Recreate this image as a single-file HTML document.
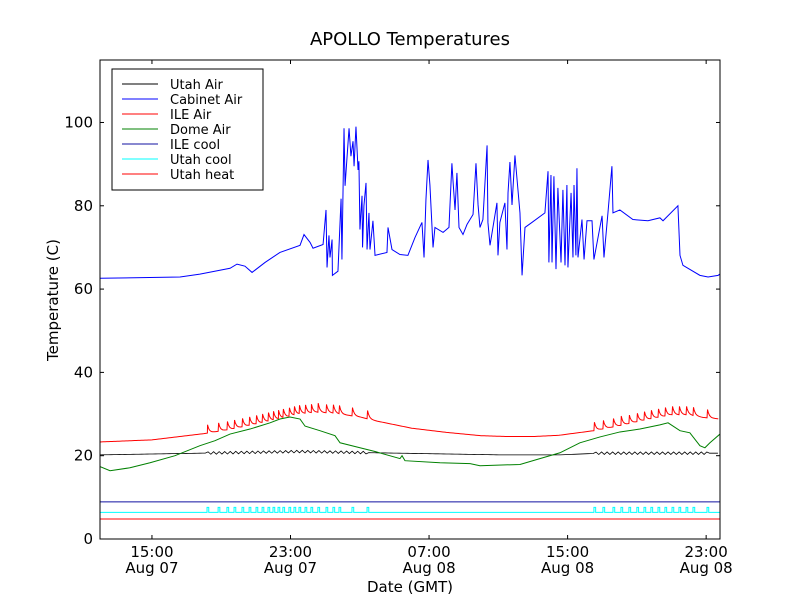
<!DOCTYPE html>
<html><head><meta charset="utf-8"><style>
body{margin:0;background:#fff;}
svg text{font-family:"DejaVu Sans","Liberation Sans",sans-serif;}
</style></head><body>
<svg id="chart" width="800" height="600" viewBox="0 0 800 600" xmlns="http://www.w3.org/2000/svg">
<rect x="0" y="0" width="800" height="600" fill="#fff"/>
<text x="410" y="45" font-size="18" text-anchor="middle">APOLLO Temperatures</text>
<g id="plot"></g>
<text x="410" y="592" font-size="15" text-anchor="middle">Date (GMT)</text>
<text transform="translate(58,300) rotate(-90)" font-size="15" text-anchor="middle">Temperature (C)</text>
</svg>
<script>
// ---- data (hours since 00:00 Aug 07, degrees C) ----
const cabHours=[12.00,16.62,17.77,19.51,19.91,20.37,20.78,21.53,22.39,23.55,23.78,24.13,24.30,24.88,25.05,25.11,25.22,25.28,25.40,25.42,25.74,25.92,25.97,26.09,26.15,26.38,26.49,26.61,26.67,26.78,26.90,26.95,27.01,27.13,27.16,27.24,27.36,27.42,27.53,27.59,27.71,27.76,27.88,28.57,28.63,28.86,29.32,29.78,30.19,30.59,30.71,30.82,30.94,31.05,31.23,31.34,31.81,32.15,32.32,32.38,32.50,32.61,32.73,32.96,33.19,33.54,33.71,33.83,33.94,34.11,34.35,34.40,34.52,34.92,34.98,35.09,35.38,35.50,35.56,35.67,35.79,35.96,36.25,36.37,36.54,36.94,37.69,37.87,37.92,38.04,38.10,38.21,38.33,38.44,38.62,38.73,38.85,38.96,39.02,39.20,39.31,39.37,39.48,39.54,39.60,39.83,39.95,40.12,40.41,40.52,40.99,41.10,41.33,41.56,41.62,42.02,42.77,43.64,44.33,44.51,45.37,45.49,45.66,46.64,47.11,47.69,47.80];
const cabValues=[62.6,62.9,63.6,65.0,66.0,65.5,64.0,66.4,68.8,70.5,73.1,71.2,69.8,70.7,79.0,65.2,72.9,67.6,71.9,63.3,64.3,81.7,67.1,98.6,84.8,98.6,91.9,95.5,89.5,99.0,88.6,90.7,74.3,82.4,70.0,80.0,85.5,69.5,78.3,69.5,74.3,76.4,68.1,68.8,74.8,69.5,68.3,68.1,72.4,76.0,67.6,81.4,91.0,85.0,70.0,74.8,73.6,74.8,90.2,86.2,79.0,87.9,74.8,73.1,75.5,77.9,90.2,80.2,74.8,76.7,94.5,76.0,70.5,80.7,68.1,76.0,80.7,69.5,83.1,90.5,80.2,92.1,78.3,63.3,74.8,76.0,78.3,88.3,66.4,87.4,66.4,87.1,64.8,84.3,66.4,83.8,65.7,85.0,65.2,83.1,67.6,85.0,68.1,89.0,67.6,76.7,67.1,76.4,76.4,67.1,77.6,67.6,78.3,89.5,78.3,79.0,76.7,76.4,77.1,76.4,80.0,68.1,65.7,63.3,62.9,63.3,63.6];
const ileAirHours=[12.0,15.0,18.0,19.5,21.0,22.5,23.5,24.5,25.5,27.0,28.0,30.0,32.0,34.0,35.5,37.0,38.5,40.5,42.0,43.5,45.0,46.0,46.8,47.8];
const ileAirValues=[23.3,23.8,25.3,26.3,27.6,29.0,30.0,30.4,30.2,29.3,28.3,26.6,25.6,24.8,24.6,24.6,24.9,26.0,27.2,28.6,29.8,29.8,29.2,28.8];
const spikeHours=[18.18,18.82,19.33,19.74,20.2,20.61,21.01,21.36,21.7,21.99,22.28,22.56,22.91,23.2,23.49,23.84,24.18,24.58,25.05,25.45,25.8,26.55,27.42,40.52,41.04,41.62,42.08,42.54,43.0,43.41,43.81,44.22,44.62,45.03,45.43,45.84,46.24,47.05];
const domeHours=[12.0,12.58,13.73,14.89,16.33,17.77,18.64,19.51,20.66,21.82,22.39,22.97,23.55,23.84,24.70,25.57,25.86,27.01,27.88,29.32,29.44,29.61,31.63,33.37,33.94,36.25,37.40,38.56,39.71,40.87,42.02,43.18,44.33,44.80,45.49,46.06,46.64,46.93,47.22,47.80];
const domeValues=[17.4,16.4,17.1,18.3,20.0,22.4,23.6,25.2,26.4,27.9,28.8,29.3,28.8,27.1,26.0,24.8,23.1,21.9,21.0,19.3,20.0,18.8,18.3,18.1,17.6,17.9,19.3,20.7,23.1,24.5,25.7,26.4,27.4,27.9,26.0,25.5,22.4,21.9,23.1,25.2];
const utahAirHours=[12.0,17.77,23.55,29.32,35.09,38.56,40.87,47.80];
const utahAirValues=[20.2,20.6,21.0,20.6,20.2,20.2,20.6,20.6];
const wiggleWindows=[[18.2,27.4],[40.5,47.1]];
const ileCoolValue=8.9;
const utahCoolBase=6.4;
const utahCoolPulse=7.6;
const utahHeatValue=4.8;
const xTickHours=[15,23,31,39,47];
const xTickLabels=[["15:00","Aug 07"],["23:00","Aug 07"],["07:00","Aug 08"],["15:00","Aug 08"],["23:00","Aug 08"]];
const yTicks=[0,20,40,60,80,100];

// ---- axes ----
const L=100,R=720,T=60,B=539;
const XMIN=12.0,XMAX=47.8,YMIN=0,YMAX=115;
const sx=h=>L+(h-XMIN)/(XMAX-XMIN)*(R-L);
const sy=v=>B-(v-YMIN)/(YMAX-YMIN)*(B-T);
const NS="http://www.w3.org/2000/svg";
const plot=document.getElementById('plot');
function mk(tag,attrs,parent){const e=document.createElementNS(NS,tag);for(const k in attrs)e.setAttribute(k,attrs[k]);(parent||plot).appendChild(e);return e;}
function interp(hs,vs,h){if(h<=hs[0])return vs[0];for(let i=1;i<hs.length;i++){if(h<=hs[i]){const f=(h-hs[i-1])/(hs[i]-hs[i-1]);return vs[i-1]+f*(vs[i]-vs[i-1]);}}return vs[vs.length-1];}
function pathFrom(pts){return pts.map((p,i)=>(i?'L':'M')+sx(p[0]).toFixed(2)+' '+sy(p[1]).toFixed(2)).join(' ');}

const clip=mk('clipPath',{id:'pc'});mk('rect',{x:L,y:T,width:R-L,height:B-T},clip);
const g=mk('g',{'clip-path':'url(#pc)'});

// Utah heat
let pts=[[XMIN,utahHeatValue],[XMAX,utahHeatValue]];
let e=mk('path',{d:pathFrom(pts),stroke:'#ff0000',fill:'none','stroke-width':1},g);


// Utah cool pulses
pts=[[XMIN,utahCoolBase]];
spikeHours.forEach(t=>{pts.push([t,utahCoolBase],[t,utahCoolPulse],[t+0.1,utahCoolPulse],[t+0.1,utahCoolBase]);});
pts.push([XMAX,utahCoolBase]);
e=mk('path',{d:pathFrom(pts),stroke:'#00ffff',fill:'none','stroke-width':1},g);


// ILE cool
pts=[[XMIN,ileCoolValue],[XMAX,ileCoolValue]];
e=mk('path',{d:pathFrom(pts),stroke:'#1010a0',fill:'none','stroke-width':1},g);


// Utah air with wiggles
pts=[];
for(let h=XMIN;h<=XMAX+0.001;h+=0.16){let v=interp(utahAirHours,utahAirValues,h);let k=Math.round((h-XMIN)/0.16);
 if(wiggleWindows.some(w=>h>=w[0]&&h<=w[1]))v+=(k%2?0.3:-0.3);pts.push([h,v]);}
e=mk('path',{d:pathFrom(pts),stroke:'#000000',fill:'none','stroke-width':0.8},g);


// Dome air
pts=domeHours.map((h,i)=>[h,domeValues[i]]);
e=mk('path',{d:pathFrom(pts),stroke:'#008000',fill:'none','stroke-width':1},g);


// ILE air with spikes
pts=[];
const allH=new Set();for(let h=XMIN;h<=XMAX;h+=0.1)allH.add(+h.toFixed(2));
spikeHours.forEach(t=>{[t,t+0.03,t+0.08,t+0.15,t+0.25].forEach(x=>allH.add(+x.toFixed(3)));});
[...allH].sort((a,b)=>a-b).forEach(h=>{let v=interp(ileAirHours,ileAirValues,h);
 spikeHours.forEach(t=>{const d=h-t;if(d>0.02&&d<0.6)v+=2.0*Math.exp(-(d-0.03)/0.1);});pts.push([h,v]);});
e=mk('path',{d:pathFrom(pts),stroke:'#ff0000',fill:'none','stroke-width':1},g);


// Cabinet air
pts=cabHours.map((h,i)=>[h,cabValues[i]]);
e=mk('path',{d:pathFrom(pts),stroke:'#0000ff',fill:'none','stroke-width':1},g);



// frame
e=mk('rect',{x:L,y:T,width:R-L,height:B-T,fill:'none',stroke:'#000','stroke-width':1});


// ticks
xTickHours.forEach((h,i)=>{const x=sx(h);
 mk('line',{x1:x,y1:B,x2:x,y2:B-4,stroke:'#000'});mk('line',{x1:x,y1:T,x2:x,y2:T+4,stroke:'#000'});
 const t=mk('text',{x:x,y:B+18,'font-size':15,'text-anchor':'middle'});t.textContent=xTickLabels[i][0];
 
 
 const t2=mk('text',{x:x,y:B+34,'font-size':15,'text-anchor':'middle'});t2.textContent=xTickLabels[i][1];
 
 });
yTicks.forEach(v=>{const y=sy(v);
 mk('line',{x1:L,y1:y,x2:L+4,y2:y,stroke:'#000'});mk('line',{x1:R,y1:y,x2:R-4,y2:y,stroke:'#000'});
 const t=mk('text',{x:L-7,y:y+5,'font-size':15,'text-anchor':'end'});t.textContent=v;
 
 });

// legend
const legendNames=['Utah Air','Cabinet Air','ILE Air','Dome Air','ILE cool','Utah cool','Utah heat'];
const legendColors=['#000000','#0000ff','#ff0000','#008000','#1010a0','#00ffff','#ff0000'];
const lg=mk('g',{});


mk('rect',{x:112,y:69,width:151,height:121,fill:'#fff',stroke:'#000','stroke-width':1},lg);
legendNames.forEach((n,i)=>{const y=84+i*15;
 const it=mk('g',{},lg);
 
 
 mk('line',{x1:122,y1:y,x2:158,y2:y,stroke:legendColors[i],'stroke-width':1},it);
 const t=mk('text',{x:170,y:y+5,'font-size':13},it);t.textContent=n;});
</script>
</body></html>
